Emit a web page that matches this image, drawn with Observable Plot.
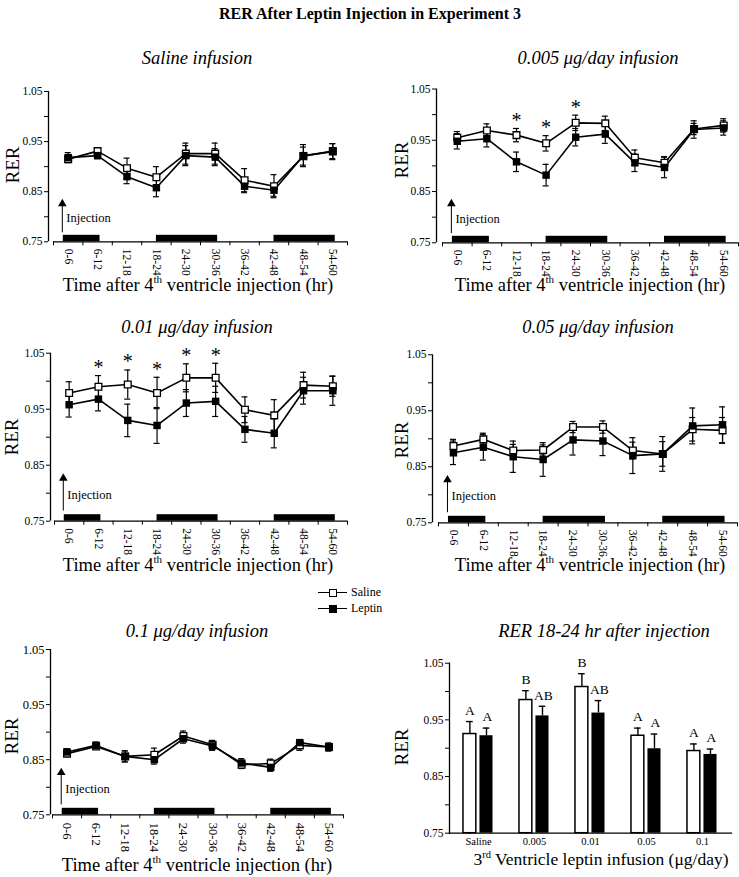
<!DOCTYPE html>
<html>
<head>
<meta charset="utf-8">
<script src="https://cdn.jsdelivr.net/npm/d3@7"></script>
<script src="https://cdn.jsdelivr.net/npm/@observablehq/plot@0.6"></script>
<style>
  body { margin: 0; background: #fff; }
  #chart { position: relative; width: 739px; height: 877px; font-family: "Liberation Serif", serif; color: #000; overflow: hidden; background: #fff; }
  .t { position: absolute; white-space: nowrap; transform: translate(-50%, -50%); line-height: 1; }
  .main { font-weight: bold; font-size: 16px; }
  .ptitle { font-style: italic; font-size: 18.5px; }
  .xlab { font-size: 18.5px; }
  .xlab2 { font-size: 17.5px; }
  .ylab { font-size: 19px; transform: translate(-50%, -50%) rotate(-90deg); }
  .panel { position: absolute; }
  .panel svg { overflow: visible; display: block; }
  sup { font-size: 0.6em; line-height: 0; vertical-align: 0.7em; }
  .leg { position: absolute; font-size: 12px; line-height: 1; }
  .leg .row { position: relative; height: 16px; }
  .leg .line { position: absolute; left: 0; top: 7px; width: 29px; height: 0; border-top: 1.6px solid #000; }
  .leg .sq { position: absolute; left: 10.5px; top: 4px; width: 6px; height: 6px; border: 1.4px solid #000; background: #fff; }
  .leg .sq.f { background: #000; }
  .leg .lab { position: absolute; left: 33px; top: 1px; }
</style>
</head>
<body>
<div id="chart"></div>
<script>
// ---------- data ----------
const timeBins = ["0-6", "6-12", "12-18", "18-24", "24-30", "30-36", "36-42", "42-48", "48-54", "54-60"];
const yTicks = [0.75, 0.80, 0.85, 0.90, 0.95, 1.00, 1.05];
const yTickLabels = ["0.75", "0.85", "0.95", "1.05"];
const darkStart = [2, 21, 45];      // hours
const darkEnd = [9.5, 33.5, 57.5];  // hours
const injectionHour = 1.8;
const injectionFrom = 0.768;
const injectionTo = 0.832;
const injectionLabelY = 0.797;

// Saline infusion
const saline1 = [0.915, 0.931, 0.897, 0.879, 0.926, 0.926, 0.873, 0.861, 0.921, 0.931];
const salineSem1 = [0.006, 0.006, 0.020, 0.021, 0.021, 0.021, 0.023, 0.023, 0.018, 0.015];
const leptin1 = [0.918, 0.922, 0.880, 0.858, 0.922, 0.919, 0.861, 0.853, 0.922, 0.930];
const leptinSem1 = [0.010, 0.006, 0.014, 0.018, 0.020, 0.017, 0.013, 0.012, 0.022, 0.016];
const stars1 = [];

// 0.005 ug/day infusion
const saline2 = [0.955, 0.969, 0.960, 0.944, 0.984, 0.983, 0.916, 0.906, 0.972, 0.979];
const salineSem2 = [0.012, 0.013, 0.013, 0.015, 0.015, 0.014, 0.015, 0.012, 0.011, 0.013];
const leptin2 = [0.948, 0.953, 0.908, 0.882, 0.956, 0.962, 0.906, 0.897, 0.971, 0.974];
const leptinSem2 = [0.015, 0.016, 0.019, 0.021, 0.017, 0.018, 0.017, 0.020, 0.017, 0.014];
const stars2 = ["12-18", "18-24", "24-30"];

// 0.01 ug/day infusion
const saline3 = [0.979, 0.990, 0.994, 0.979, 1.006, 1.006, 0.949, 0.939, 0.993, 0.991];
const salineSem3 = [0.020, 0.020, 0.026, 0.028, 0.025, 0.026, 0.023, 0.028, 0.023, 0.018];
const leptin3 = [0.958, 0.968, 0.930, 0.921, 0.961, 0.964, 0.914, 0.907, 0.983, 0.983];
const leptinSem3 = [0.022, 0.021, 0.029, 0.032, 0.024, 0.027, 0.023, 0.026, 0.024, 0.026];
const stars3 = ["6-12", "12-18", "18-24", "24-30", "30-36"];

// 0.05 ug/day infusion
const saline4 = [0.887, 0.899, 0.879, 0.880, 0.921, 0.921, 0.879, 0.873, 0.917, 0.915];
const salineSem4 = [0.012, 0.011, 0.011, 0.009, 0.010, 0.011, 0.015, 0.022, 0.021, 0.023];
const leptin4 = [0.875, 0.885, 0.868, 0.863, 0.898, 0.896, 0.870, 0.873, 0.923, 0.925];
const leptinSem4 = [0.021, 0.023, 0.028, 0.030, 0.027, 0.026, 0.032, 0.031, 0.032, 0.032];
const stars4 = [];

// 0.1 ug/day infusion
const saline5 = [0.861, 0.874, 0.856, 0.859, 0.893, 0.877, 0.841, 0.843, 0.876, 0.873];
const salineSem5 = [0.005, 0.005, 0.010, 0.012, 0.009, 0.008, 0.007, 0.008, 0.009, 0.007];
const leptin5 = [0.864, 0.876, 0.856, 0.850, 0.888, 0.875, 0.844, 0.836, 0.881, 0.873];
const leptinSem5 = [0.006, 0.006, 0.010, 0.008, 0.008, 0.008, 0.008, 0.007, 0.005, 0.007];
const stars5 = [];

// RER 18-24 hr after injection
const doseGroups = ["Saline", "0.005", "0.01", "0.05", "0.1"];
const barSaline = [0.925, 0.985, 1.008, 0.922, 0.895];
const barSalineSem = [0.022, 0.0165, 0.0235, 0.0135, 0.0125];
const barLeptin = [0.922, 0.957, 0.962, 0.899, 0.889];
const barLeptinSem = [0.0135, 0.017, 0.022, 0.026, 0.0095];
const salineLetters = ["A", "B", "B", "A", "A"];
const leptinLetters = ["A", "AB", "AB", "A", "A"];

// ---------- layout ----------
const FONT = '"Liberation Serif", "Times New Roman", serif';
const chart = document.getElementById("chart");
function addText(cls, html, x, y) {
  const d = document.createElement("div");
  d.className = "t " + cls;
  d.innerHTML = html;
  d.style.left = x + "px";
  d.style.top = y + "px";
  chart.appendChild(d);
}
function place(svg, left, top) {
  const w = document.createElement("div");
  w.className = "panel";
  w.style.left = left + "px";
  w.style.top = top + "px";
  w.appendChild(svg);
  chart.appendChild(w);
}
const fmtY = d => { const s = d.toFixed(2); return yTickLabels.includes(s) ? s : ""; };

function linePanel(p) {
  const height = Math.round(p.yBot - p.top + 42);
  const pxPerHour = (p.x1 - p.x0) / 60;
  const xMin = -(p.x0 - p.yAxisX) / pxPerHour;
  const pxPerUnit = (p.yBot - p.yTop) / 0.3;
  const rows = timeBins.map((bin, i) => ({
    bin, hour: i * 6 + 3,
    saline: p.saline[i], salineSem: p.salineSem[i],
    leptin: p.leptin[i], leptinSem: p.leptinSem[i],
    star: p.stars.includes(bin)
  }));
  const errs = rows.flatMap(d => [
    {hour: d.hour, lo: d.saline - d.salineSem, hi: d.saline + d.salineSem},
    {hour: d.hour, lo: d.leptin - d.leptinSem, hi: d.leptin + d.leptinSem}
  ]);
  const dark = darkStart.map((s, i) => ({start: s, end: darkEnd[i]}));
  const cap = 3 / pxPerHour;
  const svg = Plot.plot({
    width: p.width,
    height,
    marginLeft: p.yAxisX - p.left,
    marginRight: p.left + p.width - p.x1,
    marginTop: p.yTop - p.top,
    marginBottom: height - (p.yBot - p.top),
    x: {domain: [xMin, 60]},
    y: {domain: [0.75, 1.05]},
    style: {fontFamily: FONT, fontSize: p.tickFont + "px", background: "transparent", color: "black", overflow: "visible"},
    marks: [
      Plot.rect(dark, {x1: "start", x2: "end", y1: 0.75, y2: 0.75 + 6.5 / pxPerUnit, fill: "black"}),
      Plot.ruleY([0.75], {x1: 0, x2: 60, strokeWidth: 1.3}),
      Plot.ruleX([xMin], {y1: 0.75, y2: 1.05, strokeWidth: 1.3}),
      Plot.axisY({ticks: yTicks, tickFormat: fmtY, tickSize: 4, tickPadding: 2, label: null}),
      Plot.axisX({ticks: d3.range(0, 61, 6), tickFormat: () => "", tickSize: 4, label: null}),
      Plot.axisX({ticks: rows.map(d => d.hour), tickFormat: d => timeBins[Math.round((d - 3) / 6)], tickSize: 0, tickPadding: p.tickPad, tickRotate: 90, label: null}),
      Plot.ruleX([injectionHour], {x: d => d, y1: injectionFrom, y2: injectionTo - 0.004, strokeWidth: 1}),
      Plot.dot([injectionHour], {x: d => d, y: injectionTo, symbol: "triangle", r: 3.2, fill: "black", dy: 3}),
      Plot.text(["Injection"], {x: injectionHour, y: injectionLabelY, text: d => d, textAnchor: "start", dx: 4, fontSize: 12.5}),
      Plot.line(rows, {x: "hour", y: "saline", stroke: "black", strokeWidth: 1.6}),
      Plot.line(rows, {x: "hour", y: "leptin", stroke: "black", strokeWidth: 1.6}),
      Plot.ruleX(errs, {x: "hour", y1: "lo", y2: "hi", strokeWidth: 1.2}),
      Plot.ruleY(errs, {y: "hi", x1: d => d.hour - cap, x2: d => d.hour + cap, strokeWidth: 1.2}),
      Plot.ruleY(errs, {y: "lo", x1: d => d.hour - cap, x2: d => d.hour + cap, strokeWidth: 1.2}),
      Plot.dot(rows, {x: "hour", y: "saline", symbol: "square", r: 3.8, fill: "white", stroke: "black", strokeWidth: 1.3}),
      Plot.dot(rows, {x: "hour", y: "leptin", symbol: "square", r: 4.2, fill: "black"}),
      Plot.text(rows.filter(d => d.star), {x: "hour", y: d => d.saline + d.salineSem, text: () => "*", fontSize: 20, dy: -8})
    ]
  });
  place(svg, p.left, p.top);
}

function barPanel(p) {
  const height = Math.round(p.yBot - p.top + 20);
  const band = (p.x1 - p.yAxisX) / doseGroups.length;
  const rows = doseGroups.map((group, i) => ({
    group,
    saline: barSaline[i], salineSem: barSalineSem[i], salineLetter: salineLetters[i],
    leptin: barLeptin[i], leptinSem: barLeptinSem[i], leptinLetter: leptinLetters[i]
  }));
  const wL = 0.23 * band, wR = 0.465 * band, bL = 0.522 * band, bR = 0.761 * band;
  const wC = (wL + wR) / 2, bC = (bL + bR) / 2;
  const svg = Plot.plot({
    width: p.width,
    height,
    marginLeft: p.yAxisX - p.left,
    marginRight: p.left + p.width - p.x1,
    marginTop: p.yTop - p.top,
    marginBottom: height - (p.yBot - p.top),
    x: {domain: doseGroups, padding: 0},
    y: {domain: [0.75, 1.05]},
    style: {fontFamily: FONT, fontSize: p.tickFont + "px", background: "transparent", color: "black", overflow: "visible"},
    marks: [
      Plot.barY(rows, {x: "group", y1: 0.75, y2: "saline", fill: "white", stroke: "black", strokeWidth: 1.5, insetLeft: wL, insetRight: band - wR}),
      Plot.barY(rows, {x: "group", y1: 0.75, y2: "leptin", fill: "black", insetLeft: bL, insetRight: band - bR}),
      Plot.ruleX(rows, {x: "group", y1: "saline", y2: d => d.saline + d.salineSem, dx: wC - band / 2, strokeWidth: 1.4}),
      Plot.ruleX(rows, {x: "group", y1: "leptin", y2: d => d.leptin + d.leptinSem, dx: bC - band / 2, strokeWidth: 1.4}),
      Plot.tickY(rows, {x: "group", y: d => d.saline + d.salineSem, insetLeft: wC - 3.5, insetRight: band - wC - 3.5, strokeWidth: 1.4}),
      Plot.tickY(rows, {x: "group", y: d => d.leptin + d.leptinSem, insetLeft: bC - 3.5, insetRight: band - bC - 3.5, strokeWidth: 1.4}),
      Plot.text(rows, {x: "group", y: d => d.saline + d.salineSem, text: "salineLetter", dx: wC - band / 2, dy: -11, fontSize: 13.5}),
      Plot.text(rows, {x: "group", y: d => d.leptin + d.leptinSem, text: "leptinLetter", dx: bC - band / 2 + 1, dy: -11, fontSize: 13.5}),
      Plot.frame({anchor: "left", strokeWidth: 1.3}),
      Plot.frame({anchor: "bottom", strokeWidth: 1.3}),
      Plot.axisY({ticks: yTicks, tickFormat: fmtY, tickSize: 4, tickPadding: 2, label: null}),
      Plot.axisX({tickSize: 0, tickPadding: 4, fontSize: 10.5, label: null})
    ]
  });
  place(svg, p.left, p.top);
}

// ---------- panels ----------
addText("main", "RER After Leptin Injection in Experiment 3", 370, 14);

const xLabel = "Time after 4<sup>th</sup> ventricle injection (hr)";

addText("ptitle", "Saline infusion", 197, 58);
addText("ylab", "RER", 12, 165);
linePanel({left: 0, top: 80, width: 360, yAxisX: 48, x0: 53, x1: 347, yTop: 91, yBot: 241.3, tickFont: 11.5, tickPad: 7,
  saline: saline1, salineSem: salineSem1, leptin: leptin1, leptinSem: leptinSem1, stars: stars1});
addText("xlab", xLabel, 198, 285);

addText("ptitle", "0.005 μg/day infusion", 598, 58);
addText("ylab", "RER", 401, 160);
linePanel({left: 380, top: 78, width: 359, yAxisX: 436, x0: 442, x1: 738, yTop: 88.5, yBot: 242.3, tickFont: 11.5, tickPad: 7,
  saline: saline2, salineSem: salineSem2, leptin: leptin2, leptinSem: leptinSem2, stars: stars2});
addText("xlab", xLabel, 590, 285);

addText("ptitle", "0.01 μg/day infusion", 197, 327);
addText("ylab", "RER", 11, 437);
linePanel({left: 0, top: 342, width: 360, yAxisX: 50, x0: 54, x1: 347, yTop: 352.7, yBot: 520.7, tickFont: 11.5, tickPad: 7,
  saline: saline3, salineSem: salineSem3, leptin: leptin3, leptinSem: leptinSem3, stars: stars3});
addText("xlab", xLabel, 198, 565);

addText("ptitle", "0.05 μg/day infusion", 598, 327);
addText("ylab", "RER", 401, 440);
linePanel({left: 380, top: 344, width: 359, yAxisX: 432, x0: 438, x1: 737, yTop: 354.3, yBot: 522.3, tickFont: 11.5, tickPad: 7,
  saline: saline4, salineSem: salineSem4, leptin: leptin4, leptinSem: leptinSem4, stars: stars4});
addText("xlab", xLabel, 590, 565);

addText("ptitle", "0.1 μg/day infusion", 197, 631);
addText("ylab", "RER", 11, 736);
linePanel({left: 0, top: 639, width: 360, yAxisX: 50, x0: 52, x1: 343, yTop: 649, yBot: 814.3, tickFont: 12.5, tickPad: 8,
  saline: saline5, salineSem: salineSem5, leptin: leptin5, leptinSem: leptinSem5, stars: stars5});
addText("xlab", xLabel, 197, 865);

addText("ptitle", "RER 18-24 hr after injection", 604, 631);
addText("ylab", "RER", 401, 747);
barPanel({left: 380, top: 652, width: 359, yAxisX: 449, x1: 731, yTop: 662.7, yBot: 832.7, tickFont: 11.5});
addText("xlab2", "3<sup>rd</sup> Ventricle leptin infusion (μg/day)", 601, 860);

// ---------- legend ----------
const leg = document.createElement("div");
leg.className = "leg";
leg.style.left = "318px";
leg.style.top = "585px";
leg.innerHTML =
  '<div class="row"><div class="line"></div><div class="sq"></div><div class="lab">Saline</div></div>' +
  '<div class="row"><div class="line"></div><div class="sq f"></div><div class="lab">Leptin</div></div>';
chart.appendChild(leg);
</script>
</body>
</html>
